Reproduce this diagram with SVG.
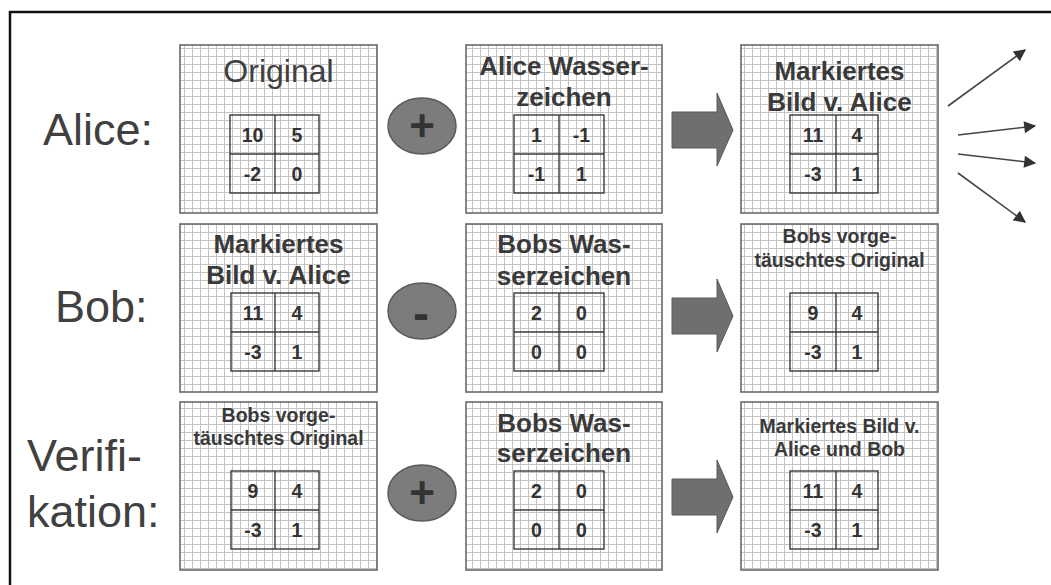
<svg xmlns="http://www.w3.org/2000/svg" width="1051" height="585" viewBox="0 0 1051 585">
<style>
.box{fill:url(#grid);stroke:#6a6a6a;stroke-width:1.6}
.tbl{fill:none;stroke:#3a3a3a;stroke-width:1.4}
.lbl{font-family:"Liberation Sans",Arial,sans-serif;font-size:45px;fill:#404040}
.t{font-family:"Liberation Sans",Arial,sans-serif;font-weight:bold;font-size:26px;fill:#3a3a3a;text-anchor:middle}
.ts{font-family:"Liberation Sans",Arial,sans-serif;font-weight:bold;font-size:19.5px;fill:#3a3a3a;text-anchor:middle}
.tr{font-family:"Liberation Sans",Arial,sans-serif;font-size:32px;fill:#404040;text-anchor:middle}
.n{font-family:"Liberation Sans",Arial,sans-serif;font-weight:bold;font-size:19.5px;fill:#333;text-anchor:middle}
.op{fill:#7c7c7c;stroke:#5a5a5a;stroke-width:1.5}
.opt{font-family:"Liberation Sans",Arial,sans-serif;font-weight:bold;fill:#333;text-anchor:middle}
.blk{fill:#6f6f6f;stroke:#5a5a5a;stroke-width:1}
.thin{stroke:#444;stroke-width:1.6;fill:none;marker-end:url(#ah)}
</style>
<defs>
<pattern id="grid" patternUnits="userSpaceOnUse" width="8" height="8">
<rect width="8" height="8" fill="#fff"/>
<path d="M0.5,0 V8 M0,0.5 H8" stroke="#c4c4c4" stroke-width="1"/>
</pattern>
<marker id="ah" viewBox="0 0 10 10" refX="9" refY="5" markerWidth="13" markerHeight="12" markerUnits="userSpaceOnUse" orient="auto">
<path d="M0,0 L10,5 L0,10 Z" fill="#333"/>
</marker>
</defs>
<rect width="1051" height="585" fill="#fff"/>
<path d="M10,585 V12 H1051" fill="none" stroke="#111" stroke-width="2.5"/>

<g id="labels">
<text class="lbl" x="43" y="145">Alice:</text>
<text class="lbl" x="55" y="322">Bob:</text>
<text class="lbl" x="27" y="471">Verifi-</text>
<text class="lbl" x="27" y="527">kation:</text>
</g>

<!-- Row 1 -->
<g id="r1c1">
<rect class="box" x="180" y="45" width="197" height="168"/>
<text class="tr" x="278.5" y="82">Original</text>
<rect class="tbl" x="230" y="115" width="89" height="78"/>
<path class="tbl" d="M275,115 V193 M230,154 H319"/>
<text class="n" x="252.5" y="142">10</text><text class="n" x="297" y="142">5</text>
<text class="n" x="252.5" y="181">-2</text><text class="n" x="297" y="181">0</text>
</g>
<g id="op1">
<ellipse class="op" cx="422" cy="126" rx="34" ry="28"/>
<text class="opt" x="422" y="141" font-size="44">+</text>
</g>
<g id="r1c2">
<rect class="box" x="466" y="45" width="196" height="168"/>
<text class="t" x="564" y="75">Alice Wasser-</text>
<text class="t" x="564" y="106">zeichen</text>
<rect class="tbl" x="514" y="115" width="90" height="78"/>
<path class="tbl" d="M559,115 V193 M514,154 H604"/>
<text class="n" x="536.5" y="142">1</text><text class="n" x="581.5" y="142">-1</text>
<text class="n" x="536.5" y="181">-1</text><text class="n" x="581.5" y="181">1</text>
</g>
<g id="r1c3">
<rect class="box" x="741" y="45" width="197" height="168"/>
<text class="t" x="839.5" y="80">Markiertes</text>
<text class="t" x="839.5" y="111">Bild v. Alice</text>
<rect class="tbl" x="790" y="115" width="88" height="78"/>
<path class="tbl" d="M836,115 V193 M790,154 H878"/>
<text class="n" x="813" y="142">11</text><text class="n" x="857" y="142">4</text>
<text class="n" x="813" y="181">-3</text><text class="n" x="857" y="181">1</text>
</g>

<!-- Row 2 -->
<g id="r2c1">
<rect class="box" x="180" y="224" width="197" height="168"/>
<text class="t" x="278.5" y="253">Markiertes</text>
<text class="t" x="278.5" y="284">Bild v. Alice</text>
<rect class="tbl" x="231" y="293" width="88" height="78"/>
<path class="tbl" d="M275,293 V371 M231,332 H319"/>
<text class="n" x="253" y="320">11</text><text class="n" x="297" y="320">4</text>
<text class="n" x="253" y="359">-3</text><text class="n" x="297" y="359">1</text>
</g>
<g id="op2">
<ellipse class="op" cx="422" cy="311" rx="34" ry="28"/>
<text class="opt" x="421" y="330" font-size="48">-</text>
</g>
<g id="r2c2">
<rect class="box" x="466" y="224" width="196" height="168"/>
<text class="t" x="564" y="253">Bobs Was-</text>
<text class="t" x="564" y="285">serzeichen</text>
<rect class="tbl" x="514" y="293" width="90" height="78"/>
<path class="tbl" d="M559,293 V371 M514,332 H604"/>
<text class="n" x="536.5" y="320">2</text><text class="n" x="581.5" y="320">0</text>
<text class="n" x="536.5" y="359">0</text><text class="n" x="581.5" y="359">0</text>
</g>
<g id="r2c3">
<rect class="box" x="741" y="224" width="197" height="168"/>
<text class="ts" x="839.5" y="243">Bobs vorge-</text>
<text class="ts" x="839.5" y="267">täuschtes Original</text>
<rect class="tbl" x="790" y="293" width="88" height="78"/>
<path class="tbl" d="M836,293 V371 M790,332 H878"/>
<text class="n" x="813" y="320">9</text><text class="n" x="857" y="320">4</text>
<text class="n" x="813" y="359">-3</text><text class="n" x="857" y="359">1</text>
</g>

<!-- Row 3 -->
<g id="r3c1">
<rect class="box" x="180" y="402" width="197" height="168"/>
<text class="ts" x="278.5" y="422">Bobs vorge-</text>
<text class="ts" x="278.5" y="445">täuschtes Original</text>
<rect class="tbl" x="231" y="471" width="88" height="78"/>
<path class="tbl" d="M275,471 V549 M231,510 H319"/>
<text class="n" x="253" y="498">9</text><text class="n" x="297" y="498">4</text>
<text class="n" x="253" y="537">-3</text><text class="n" x="297" y="537">1</text>
</g>
<g id="op3">
<ellipse class="op" cx="422" cy="493" rx="34" ry="28"/>
<text class="opt" x="422" y="508" font-size="44">+</text>
</g>
<g id="r3c2">
<rect class="box" x="466" y="402" width="196" height="168"/>
<text class="t" x="564" y="432">Bobs Was-</text>
<text class="t" x="564" y="462">serzeichen</text>
<rect class="tbl" x="514" y="471" width="90" height="78"/>
<path class="tbl" d="M559,471 V549 M514,510 H604"/>
<text class="n" x="536.5" y="498">2</text><text class="n" x="581.5" y="498">0</text>
<text class="n" x="536.5" y="537">0</text><text class="n" x="581.5" y="537">0</text>
</g>
<g id="r3c3">
<rect class="box" x="741" y="402" width="197" height="168"/>
<text class="ts" x="839.5" y="433">Markiertes Bild v.</text>
<text class="ts" x="839.5" y="456">Alice und Bob</text>
<rect class="tbl" x="790" y="471" width="88" height="78"/>
<path class="tbl" d="M836,471 V549 M790,510 H878"/>
<text class="n" x="813" y="498">11</text><text class="n" x="857" y="498">4</text>
<text class="n" x="813" y="537">-3</text><text class="n" x="857" y="537">1</text>
</g>

<g id="connectors">
<path class="blk" d="M672,112 H717 V93 L733,130 L717,166 V148 H672 Z"/>
<path class="blk" d="M672,298 H717 V279 L733,316 L717,352 V334 H672 Z"/>
<path class="blk" d="M672,479 H717 V460 L733,497 L717,533 V515 H672 Z"/>
<line class="thin" x1="948" y1="106" x2="1025" y2="50"/>
<line class="thin" x1="958" y1="135" x2="1035" y2="126"/>
<line class="thin" x1="958" y1="154" x2="1035" y2="163"/>
<line class="thin" x1="958" y1="173" x2="1025" y2="222"/>
</g>
</svg>
